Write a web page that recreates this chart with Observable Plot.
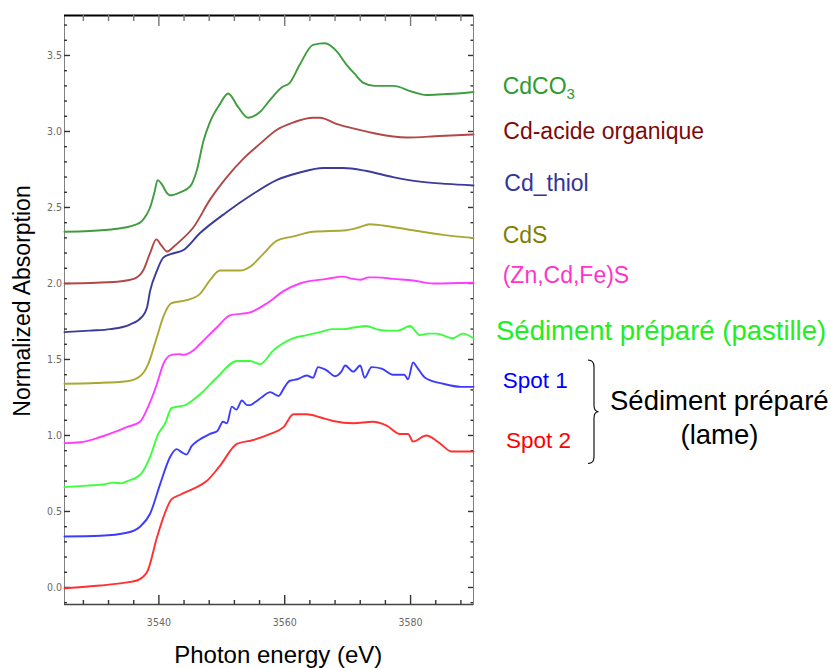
<!DOCTYPE html>
<html><head><meta charset="utf-8">
<script src="https://cdn.jsdelivr.net/npm/d3@7"></script>
<script src="https://cdn.jsdelivr.net/npm/@observablehq/plot@0.6"></script>
<style>
html,body{margin:0;padding:0;background:#fff;}
#wrap{position:relative;width:831px;height:668px;overflow:hidden;background:#fff;}
#wrap svg.overlay{position:absolute;left:0;top:0;pointer-events:none;}
</style></head><body><div id="wrap"></div>
<script>
// ---------- data ----------
const seriesNames = ["CdCO3", "Cd-acide organique", "Cd_thiol", "CdS", "(Zn,Cd,Fe)S", "Sédiment préparé (pastille)", "Spot 1", "Spot 2"];

const eCdCO3 = [3525, 3529, 3533.3, 3534.9, 3536.2, 3537.3, 3538.0, 3538.6, 3539.3, 3539.8, 3540.5, 3541.2, 3541.8, 3543.4, 3545.0, 3546.0, 3547.1, 3548.1, 3549.7, 3551.0, 3552.6, 3554.2, 3556.1, 3557.7, 3559.5, 3560.8, 3562.4, 3564.5, 3566.4, 3568.2, 3569.8, 3571.1, 3572.5, 3574.3, 3577.2, 3580.4, 3582.5, 3585.2, 3587.5, 3590];
const aCdCO3 = [2.34, 2.345, 2.36, 2.37, 2.385, 2.41, 2.45, 2.50, 2.60, 2.68, 2.65, 2.60, 2.58, 2.60, 2.64, 2.74, 2.94, 3.06, 3.18, 3.25, 3.16, 3.09, 3.13, 3.21, 3.29, 3.32, 3.44, 3.57, 3.58, 3.53, 3.44, 3.38, 3.32, 3.30, 3.30, 3.26, 3.24, 3.245, 3.25, 3.26];

const eAcide = [3525, 3530, 3534, 3536, 3537.5, 3538.6, 3539.6, 3540.4, 3541.3, 3542.3, 3543.4, 3545.5, 3548.1, 3550.8, 3553.4, 3556.1, 3558.7, 3561.4, 3564.5, 3565.6, 3568.2, 3570.9, 3574.0, 3579.4, 3584.6, 3590];
const aAcide = [2.00, 2.005, 2.015, 2.03, 2.085, 2.20, 2.29, 2.25, 2.21, 2.24, 2.28, 2.37, 2.55, 2.70, 2.82, 2.92, 3.01, 3.06, 3.09, 3.09, 3.05, 3.02, 2.99, 2.96, 2.97, 2.98];

const eThiol = [3525, 3529, 3532.3, 3535.4, 3537.3, 3538.1, 3538.6, 3539.7, 3540.7, 3542.0, 3543.9, 3546.5, 3550.8, 3555.0, 3558.7, 3562.4, 3566.1, 3569.3, 3573.0, 3577.2, 3581.5, 3585.7, 3590];
const aThiol = [1.68, 1.69, 1.70, 1.73, 1.78, 1.84, 1.95, 2.085, 2.17, 2.195, 2.22, 2.33, 2.47, 2.59, 2.68, 2.73, 2.76, 2.76, 2.74, 2.70, 2.67, 2.655, 2.645];

const eCdS = [3525, 3530, 3534.9, 3537.0, 3538.3, 3539.7, 3540.7, 3542.0, 3544.4, 3546.5, 3548.1, 3549.7, 3552.9, 3554.5, 3556.6, 3558.7, 3561.4, 3564.5, 3569.8, 3571.9, 3573.5, 3576.7, 3580.4, 3585.2, 3590];
const aCdS = [1.34, 1.345, 1.357, 1.39, 1.47, 1.65, 1.78, 1.87, 1.89, 1.93, 2.02, 2.085, 2.085, 2.11, 2.195, 2.28, 2.31, 2.34, 2.35, 2.37, 2.39, 2.375, 2.35, 2.32, 2.30];

const eZnCdFeS = [3525, 3527.5, 3530.7, 3534.9, 3537.0, 3538.3, 3539.7, 3540.7, 3542.0, 3543.2, 3543.9, 3545.5, 3546.5, 3549.2, 3551.3, 3554.5, 3557.2, 3559.8, 3562.4, 3566.7, 3569.3, 3570.8, 3572.0, 3573.3, 3574.6, 3577.3, 3580.4, 3583.6, 3590];
const aZnCdFeS = [0.95, 0.955, 0.99, 1.055, 1.09, 1.19, 1.34, 1.47, 1.53, 1.535, 1.53, 1.56, 1.60, 1.71, 1.79, 1.81, 1.87, 1.95, 2.00, 2.03, 2.045, 2.03, 2.025, 2.04, 2.04, 2.03, 2.02, 2.00, 2.005];

const ePastille = [3525, 3528.6, 3531.5, 3532.8, 3534, 3535, 3537.0, 3538.6, 3539.9, 3541, 3542.0, 3543, 3544.2, 3546.5, 3549.2, 3552.4, 3554.5, 3556.1, 3558.2, 3561.4, 3563.5, 3565.6, 3567.5, 3569.3, 3571, 3573.0, 3574.5, 3576.2, 3578, 3579.9, 3581.5, 3582.8, 3584.1, 3586.7, 3588.3, 3590];
const aPastille = [0.66, 0.67, 0.68, 0.69, 0.685, 0.70, 0.74, 0.86, 1.01, 1.08, 1.18, 1.19, 1.20, 1.27, 1.38, 1.49, 1.49, 1.47, 1.56, 1.64, 1.66, 1.68, 1.70, 1.70, 1.71, 1.72, 1.70, 1.69, 1.69, 1.72, 1.66, 1.67, 1.67, 1.64, 1.67, 1.64];

const eSpot1 = [3525, 3530.7, 3534.9, 3537.0, 3538.6, 3540.2, 3541.8, 3542.8, 3543.6, 3544.4, 3545.2, 3546.0, 3548.1, 3549.3, 3550.2, 3550.8, 3551.6, 3552.3, 3553.2, 3554.0, 3554.5, 3555.3, 3556.3, 3557.7, 3559.0, 3560.0, 3560.8, 3562.0, 3563.5, 3564.5, 3565.3, 3566.6, 3568.0, 3569.0, 3569.6, 3570.9, 3572.0, 3572.7, 3573.8, 3575.4, 3577.2, 3579.0, 3579.6, 3580.4, 3581.0, 3582.3, 3585.2, 3588, 3590];
const aSpot1 = [0.335, 0.34, 0.36, 0.40, 0.485, 0.68, 0.86, 0.91, 0.89, 0.875, 0.93, 0.96, 1.01, 1.03, 1.09, 1.08, 1.19, 1.17, 1.23, 1.20, 1.20, 1.22, 1.25, 1.285, 1.26, 1.32, 1.36, 1.37, 1.395, 1.38, 1.45, 1.43, 1.39, 1.42, 1.46, 1.42, 1.46, 1.38, 1.45, 1.44, 1.40, 1.40, 1.37, 1.48, 1.45, 1.38, 1.34, 1.32, 1.32];

const eSpot2 = [3525, 3530.7, 3534.4, 3536.5, 3538.1, 3539.7, 3540.7, 3542.0, 3543.4, 3545.5, 3547.6, 3549.7, 3552.4, 3555.0, 3557.7, 3559.8, 3561.4, 3563.5, 3565.6, 3567.7, 3570.9, 3574.0, 3576.2, 3578.3, 3579.6, 3580.4, 3582.5, 3584.6, 3586.5, 3590];
const aSpot2 = [-0.005, 0.013, 0.03, 0.046, 0.10, 0.33, 0.46, 0.58, 0.61, 0.65, 0.70, 0.80, 0.945, 0.97, 1.01, 1.055, 1.14, 1.14, 1.12, 1.095, 1.08, 1.09, 1.065, 1.01, 1.01, 0.96, 1.00, 0.95, 0.895, 0.895];

const energies = [eCdCO3, eAcide, eThiol, eCdS, eZnCdFeS, ePastille, eSpot1, eSpot2];
const absorptions = [aCdCO3, aAcide, aThiol, aCdS, aZnCdFeS, aPastille, aSpot1, aSpot2];

const xMajorTicks = [3540, 3560, 3580];
const xMinorTicks = [3528, 3532, 3536, 3544, 3548, 3552, 3556, 3564, 3568, 3572, 3576, 3584, 3588];
const yMajorTicks = [0.0, 0.5, 1.0, 1.5, 2.0, 2.5, 3.0, 3.5];
const yMinorTicks = [-0.1, 0.1, 0.2, 0.3, 0.4, 0.6, 0.7, 0.8, 0.9, 1.1, 1.2, 1.3, 1.4, 1.6, 1.7, 1.8, 1.9, 2.1, 2.2, 2.3, 2.4, 2.6, 2.7, 2.8, 2.9, 3.1, 3.2, 3.3, 3.4, 3.6, 3.7];
const xDomain = [3525, 3590];
const yDomain = [-0.112, 3.763];

const xTitle = "Photon energy (eV)";
const yTitle = "Normalized Absorption";

// ---------- styles / layout ----------
const lineColors = ["#3f9d3f", "#b04848", "#3b3b9c", "#a8a833", "#ff3dff", "#3cff3c", "#3c3cff", "#ff3030"];
const labelColors = ["#2f9a2f", "#7d0a0a", "#333399", "#808000", "#ff33cc", "#22ee22", "#0000ff", "#ff0000"];

const W = 831, H = 668, mL = 64, mR = 358, mT = 15, mB = 64;
const plotW = W - mL - mR, plotH = H - mT - mB;
// pixel length -> data length, for the inward tick marks
const dyPx = (yDomain[1] - yDomain[0]) / plotH;
const dxPx = (xDomain[1] - xDomain[0]) / plotW;

const rows = [];
seriesNames.forEach((s, i) => energies[i].forEach((e, j) => rows.push({series: s, x: e, y: absorptions[i][j]})));

const tickFont = "'Liberation Sans Narrow', 'DejaVu Sans Condensed', sans-serif";

const ticksBottom = (t, len, stroke) => Plot.ruleX(t, {x: d => d, y1: yDomain[0], y2: yDomain[0] + len * dyPx, stroke, strokeWidth: 1.4});
const ticksTop = (t, len, stroke) => Plot.ruleX(t, {x: d => d, y1: yDomain[1], y2: yDomain[1] - len * dyPx, stroke, strokeWidth: 1.4});
const ticksLeft = (t, len, stroke) => Plot.ruleY(t, {y: d => d, x1: xDomain[0], x2: xDomain[0] + len * dxPx, stroke, strokeWidth: 1.4});
const ticksRight = (t, len, stroke) => Plot.ruleY(t, {y: d => d, x1: xDomain[1], x2: xDomain[1] - len * dxPx, stroke, strokeWidth: 1.4});

const chart = Plot.plot({
  width: W,
  height: H,
  marginLeft: mL,
  marginRight: mR,
  marginTop: mT,
  marginBottom: mB,
  x: {domain: xDomain},
  y: {domain: yDomain},
  style: {fontFamily: tickFont, fontSize: "10.5px", color: "#6a6a6a", background: "white", overflow: "visible"},
  marks: [
    Plot.frame({stroke: "#808080", strokeWidth: 1}),
    Plot.ruleY([yDomain[1]], {stroke: "#000", strokeWidth: 2.2}),
    Plot.ruleY([yDomain[0]], {stroke: "#444", strokeWidth: 1.4}),
    ticksBottom(xMajorTicks, 9, "#333"),
    ticksBottom(xMinorTicks, 4, "#333"),
    ticksTop(xMajorTicks, 11, "#777"),
    ticksTop(xMinorTicks, 6, "#777"),
    ticksLeft(yMajorTicks, 6, "#333"),
    ticksLeft(yMinorTicks, 3, "#333"),
    ticksRight(yMajorTicks, 5, "#333"),
    ticksRight(yMinorTicks, 2.5, "#333"),
    Plot.axisX(xMajorTicks, {anchor: "bottom", tickSize: 0, tickPadding: 14, tickFormat: d => String(d), label: null, fill: "#6a6a6a"}),
    Plot.axisY(yMajorTicks, {anchor: "left", tickSize: 0, tickPadding: 2.5, tickFormat: d3.format(".1f"), label: null, fill: "#6a6a6a"}),
    ...seriesNames.map((s, i) => Plot.line(rows.filter(r => r.series === s), {x: "x", y: "y", stroke: lineColors[i], strokeWidth: 1.9, curve: "monotone-x"}))
  ]
});

const wrap = document.getElementById("wrap");
wrap.appendChild(chart);

// ---------- overlay: titles and legend ----------
const legendLayout = [
  {x: 502.7, y: 94.3, size: 23},
  {x: 503.3, y: 139, size: 23},
  {x: 504.3, y: 191, size: 23},
  {x: 502.7, y: 242.7, size: 23},
  {x: 502.7, y: 283, size: 23},
  {x: 496, y: 340, size: 27.5},
  {x: 502.7, y: 388.3, size: 22.5},
  {x: 506, y: 448.3, size: 22.5}
];
const textFont = "'Liberation Sans', Arial, sans-serif";
const ov = d3.create("svg").attr("class", "overlay").attr("width", W).attr("height", H)
  .attr("font-family", textFont);

seriesNames.forEach((s, i) => {
  const L = legendLayout[i];
  const t = ov.append("text").attr("x", L.x).attr("y", L.y).attr("font-size", L.size).attr("fill", labelColors[i]);
  if (s === "CdCO3") {
    t.append("tspan").text("CdCO");
    t.append("tspan").attr("dy", 5).attr("font-size", 15).text("3");
  } else {
    t.text(s);
  }
});

// brace grouping the two spots
ov.append("path")
  .attr("d", "M588,360 Q594,360 594,367 L594,405 Q594,411.7 598.5,411.7 Q594,411.7 594,418 L594,457 Q594,463.5 588,463.5")
  .attr("fill", "none").attr("stroke", "#000").attr("stroke-width", 1.1);
ov.append("text").attr("x", 610).attr("y", 410).attr("font-size", 27.5).attr("fill", "#000").text("Sédiment préparé");
ov.append("text").attr("x", 719.5).attr("y", 443.5).attr("font-size", 27.5).attr("fill", "#000").attr("text-anchor", "middle").text("(lame)");

// axis titles
ov.append("text").attr("x", 278.3).attr("y", 663.3).attr("font-size", 24).attr("fill", "#000").attr("text-anchor", "middle").text(xTitle);
ov.append("text").attr("transform", "translate(30,301) rotate(-90)").attr("font-size", 23).attr("fill", "#000").attr("text-anchor", "middle").text(yTitle);

wrap.appendChild(ov.node());
</script></body></html>
